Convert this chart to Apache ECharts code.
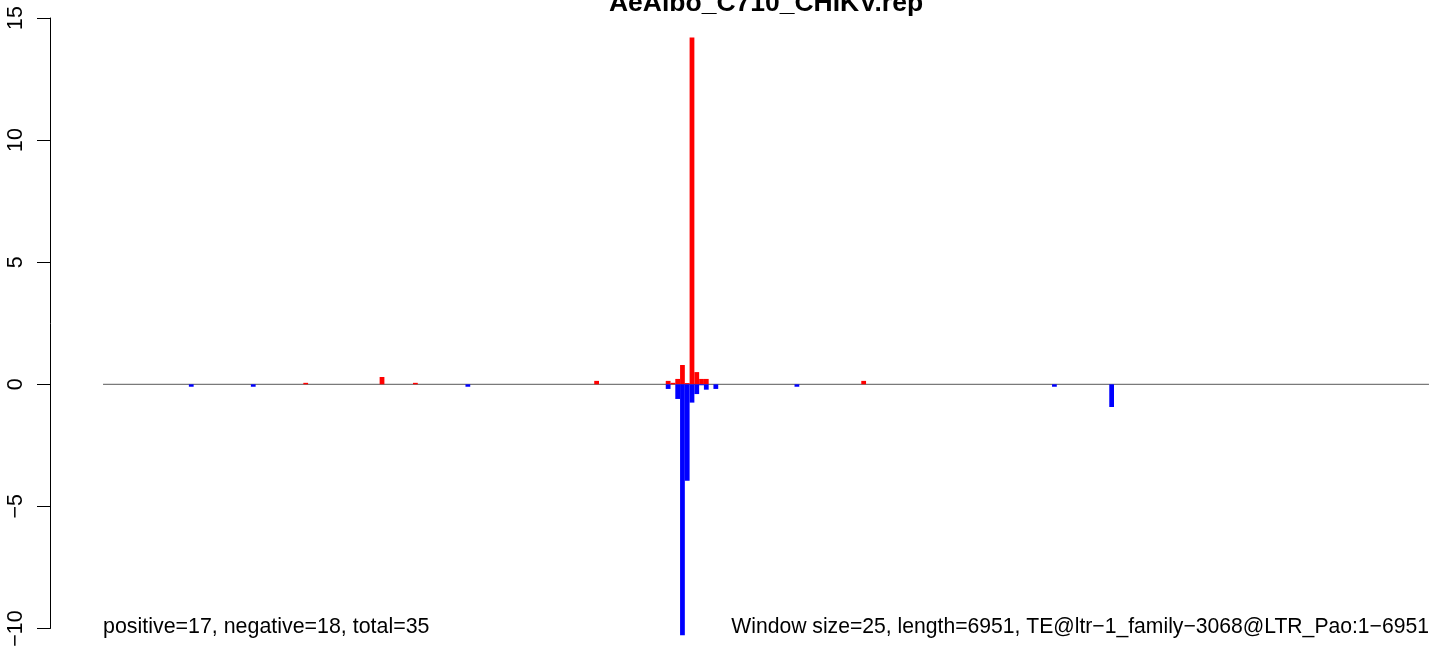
<!DOCTYPE html>
<html>
<head>
<meta charset="utf-8">
<script src="https://cdn.jsdelivr.net/npm/echarts@6/dist/echarts.min.js"></script>
<style>
html,body{margin:0;padding:0;background:#fff;}
#chart{width:1429px;height:646px;}
</style>
</head>
<body>
<div id="chart"></div>
<script>
// ---- data ----
const titleText = 'AeAlbo_C710_CHIKV.rep';
const seqLength = 6951;
const windowSize = 25;
const posWindows = [42, 58, 65, 103, 118, 119, 120, 121, 122, 123, 124, 125, 126, 159];
const posValues  = [0.06, 0.3, 0.06, 0.14, 0.14, 0.06, 0.22, 0.79, 0.05, 14.2, 0.5, 0.22, 0.22, 0.14];
const negWindows = [18, 31, 76, 118, 120, 121, 122, 123, 124, 125, 126, 128, 145, 199, 211];
const negValues  = [-0.1, -0.1, -0.1, -0.19, -0.6, -10.28, -3.95, -0.75, -0.4, -0.04, -0.22, -0.19, -0.1, -0.1, -0.93];
const yTicks = [-10, -5, 0, 5, 10, 15];
const yTickLabels = ['\u221210', '\u22125', '0', '5', '10', '15'];
const leftNote = 'positive=17, negative=18, total=35';
const rightNote = 'Window size=25, length=6951, TE@ltr\u22121_family\u22123068@LTR_Pao:1\u22126951';

// ---- build ----
const FONT = '"Liberation Sans", Arial, Helvetica, sans-serif';
const pad = seqLength * 0.04;
const posData = posWindows.map((w, i) => [w * windowSize, posValues[i]]);
const negData = negWindows.map((w, i) => [w * windowSize, negValues[i]]);

function barRenderer(color) {
  return function (params, api) {
    const start = api.value(0);
    const v = api.value(1);
    const p1 = api.coord([start, v]);
    const p2 = api.coord([start + windowSize, 0]);
    return {
      type: 'rect',
      shape: {
        x: p1[0],
        y: Math.min(p1[1], p2[1]),
        width: p2[0] - p1[0],
        height: Math.abs(p2[1] - p1[1])
      },
      style: { fill: color }
    };
  };
}

const chart = echarts.init(document.getElementById('chart'), null, { renderer: 'canvas' });
chart.setOption({
  animation: false,
  backgroundColor: '#ffffff',
  grid: { left: 50, top: 18, width: 1432, height: 610.5, containLabel: false, outerBoundsMode: 'none' },
  xAxis: {
    type: 'value',
    min: -pad,
    max: seqLength + pad,
    show: false
  },
  yAxis: {
    type: 'value',
    min: -10,
    max: 15,
    interval: 5,
    axisLine: { show: true, onZero: false, lineStyle: { color: '#000', width: 1 } },
    axisTick: { show: true, length: 13, lineStyle: { color: '#000', width: 1 }, customValues: yTicks },
    axisLabel: {
      show: true,
      rotate: 90,
      margin: 23,
      color: '#000',
      fontSize: 21.4,
      fontFamily: FONT,
      customValues: yTicks,
      formatter: function (v) {
        const i = yTicks.indexOf(Math.round(v));
        return i >= 0 ? yTickLabels[i] : '';
      }
    },
    splitLine: { show: false }
  },
  series: [
    {
      type: 'line',
      data: [[0, 0], [seqLength, 0]],
      symbol: 'none',
      lineStyle: { color: '#7a7a7a', width: 1.2 },
      z: 1,
      silent: true
    },
    {
      type: 'custom',
      renderItem: barRenderer('#ff0000'),
      data: posData,
      clip: false,
      z: 2
    },
    {
      type: 'custom',
      renderItem: barRenderer('#0000ff'),
      data: negData,
      clip: false,
      z: 2
    }
  ],
  graphic: [
    {
      type: 'text', x: 766, y: 17, z: 10,
      style: { text: titleText, font: 'bold 26.5px ' + FONT, fill: '#000', align: 'center', verticalAlign: 'bottom' }
    },
    {
      type: 'text', x: 103, y: 637.5, z: 10,
      style: { text: leftNote, font: '21.4px ' + FONT, fill: '#000', align: 'left', verticalAlign: 'bottom' }
    },
    {
      type: 'text', x: 1429, y: 637.5, z: 10,
      style: { text: rightNote, font: '21.15px ' + FONT, fill: '#000', align: 'right', verticalAlign: 'bottom' }
    }
  ]
});
</script>
</body>
</html>
